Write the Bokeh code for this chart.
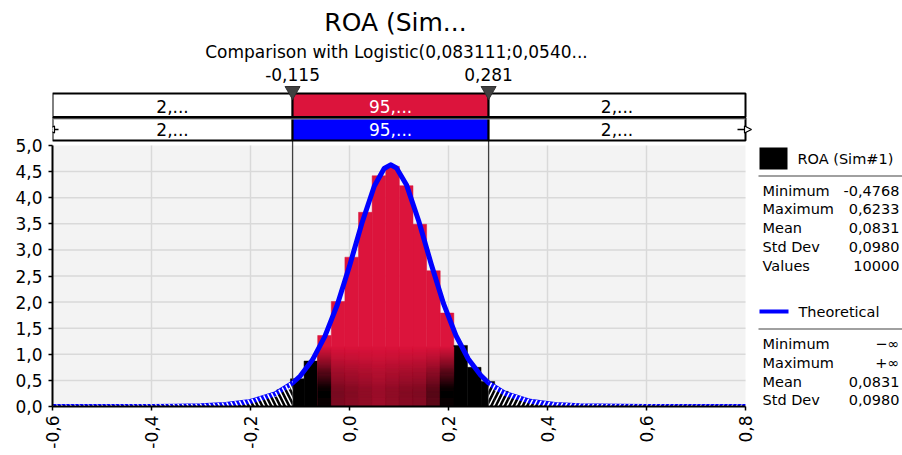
import numpy as np
from bokeh.plotting import figure
from bokeh.models import Range1d, FixedTicker, CustomJSTickFormatter
from bokeh.embed import file_html
from bokeh.resources import INLINE
from bokeh.core.properties import value

# ---------------- data ----------------
title_text = "ROA (Sim..."
subtitle_text = "Comparison with Logistic(0,083111;0,0540..."
sim_name = "ROA (Sim#1)"
theo_name = "Theoretical"

hist_min = -0.4768
hist_max = 0.6233
hist_density = [0.004, 0.0, 0.004, 0.004, 0.007, 0.011, 0.015, 0.026, 0.044, 0.07,
                0.11, 0.18, 0.32, 0.53, 0.87, 1.36, 2.01, 2.86, 3.72, 4.42,
                4.60, 4.23, 3.49, 2.60, 1.79, 1.17, 0.75, 0.48, 0.29, 0.18,
                0.11, 0.07, 0.045, 0.025, 0.015, 0.01, 0.007, 0.004, 0.0, 0.004]
red_bins = [15, 16, 17, 18, 19, 20, 21, 22, 23, 24]

theo_x = [-0.6, -0.5, -0.4, -0.35, -0.3, -0.25, -0.2, -0.15, -0.115, -0.1,
          -0.075, -0.05, -0.025, 0.0, 0.025, 0.05, 0.07, 0.083, 0.095, 0.115,
          0.14, 0.165, 0.19, 0.215, 0.24, 0.265, 0.281, 0.315, 0.365, 0.415,
          0.465, 0.5, 0.6, 0.7, 0.8]
theo_y = [0.0, 0.0, 0.002, 0.006, 0.015, 0.039, 0.097, 0.24, 0.45, 0.58,
          0.89, 1.34, 1.94, 2.69, 3.51, 4.22, 4.56, 4.63, 4.57, 4.25,
          3.55, 2.73, 1.97, 1.36, 0.91, 0.60, 0.45, 0.246, 0.099, 0.039,
          0.016, 0.008, 0.001, 0.0, 0.0]

delimiters = [-0.115, 0.281]
delimiter_labels = ["-0,115", "0,281"]
sim_band_labels = ["2,...", "95,...", "2,..."]
theo_band_labels = ["2,...", "95,...", "2,..."]

x_ticks = [-0.6, -0.4, -0.2, 0.0, 0.2, 0.4, 0.6, 0.8]
y_ticks = [0.0, 0.5, 1.0, 1.5, 2.0, 2.5, 3.0, 3.5, 4.0, 4.5, 5.0]

sim_stat_names = ["Minimum", "Maximum", "Mean", "Std Dev", "Values"]
sim_stat_values = ["-0,4768", "0,6233", "0,0831", "0,0980", "10000"]
theo_stat_names = ["Minimum", "Maximum", "Mean", "Std Dev"]
theo_stat_values = ["\u2212\u221e", "+\u221e", "0,0831", "0,0980"]

# ---------------- layout / style ----------------
FONT = "DejaVu Sans"
RED_RGB = (220, 20, 60)
RED = "#DC143C"
BLUE = "#0000FF"
W, H = 902, 455
PLOT_L, PLOT_R = 52, 745      # page pixels of first / last x tick
PLOT_T, PLOT_B = 145, 406     # page pixels of top / bottom y tick
B_LEFT, B_BOTTOM = PLOT_L, H - PLOT_B
FRAME_W = W - B_LEFT
FRAME_H = H - B_BOTTOM
px_per_x = (PLOT_R - PLOT_L) / (x_ticks[-1] - x_ticks[0])
px_per_y = (PLOT_B - PLOT_T) / (y_ticks[-1] - y_ticks[0])
x_start = x_ticks[0]
x_end = x_start + FRAME_W / px_per_x
y_end = FRAME_H / px_per_y


def dx(px):
    return x_start + (px - PLOT_L) / px_per_x


def dy(py):
    return (PLOT_B - py) / px_per_y


p = figure(width=W, height=H, x_range=Range1d(x_start, x_end), y_range=Range1d(0, y_end),
           output_backend="svg", toolbar_location=None,
           min_border_left=B_LEFT, min_border_right=0, min_border_top=0,
           min_border_bottom=B_BOTTOM)
p.outline_line_color = None
p.xgrid.visible = False
p.ygrid.visible = False
p.background_fill_color = "white"
p.border_fill_color = "white"

# axes
fmt = CustomJSTickFormatter(code="return tick.toFixed(1).replace('.', ',');")
for ax in (p.xaxis[0], p.yaxis[0]):
    ax.axis_line_color = "black"
    ax.axis_line_width = 2
    ax.major_tick_line_color = "black"
    ax.major_tick_line_width = 1.5
    ax.major_tick_out = 4
    ax.major_tick_in = 0
    ax.minor_tick_line_color = None
    ax.major_label_text_font = FONT
    ax.major_label_text_font_size = "17px"
    ax.major_label_text_color = "black"
    ax.formatter = fmt
p.xaxis.ticker = FixedTicker(ticks=x_ticks)
p.yaxis.ticker = FixedTicker(ticks=y_ticks)
p.xaxis.bounds = (x_ticks[0], x_ticks[-1])
p.yaxis.bounds = (y_ticks[0], y_ticks[-1])
p.xaxis.major_label_orientation = np.pi / 2
p.xaxis.major_label_standoff = 5
p.yaxis.major_label_standoff = 6

# plot background + grid
p.quad(left=x_ticks[0], right=x_ticks[-1], bottom=y_ticks[0], top=y_ticks[-1],
       fill_color="#F3F3F3", line_color=None)
p.segment(x0=x_ticks[1:-1], y0=y_ticks[0], x1=x_ticks[1:-1], y1=y_ticks[-1],
          line_color="#D9D9D9", line_width=1.5)
p.segment(x0=x_ticks[0], y0=y_ticks[1:-1], x1=x_ticks[-1], y1=y_ticks[1:-1],
          line_color="#D9D9D9", line_width=1.5)

# histogram
nb = len(hist_density)
edges = np.linspace(hist_min, hist_max, nb + 1)
bar_colors = [RED if k in red_bins else "black" for k in range(nb)]
p.quad(left=edges[:-1], right=edges[1:], bottom=0, top=hist_density,
       fill_color=bar_colors, line_color=bar_colors, line_width=0.5)

# dark shading at the foot of the red bars (opaque blended strips)
shade_weights = [1.0, 0.45, 0.4, 0.35, 0.3, 0.35, 0.4, 0.42, 0.6, 1.0]
sl, sr, sb, st, sc = [], [], [], [], []
step = 0.02
for k, w in zip(red_bins, shade_weights):
    for j in range(60):
        y0 = j * step
        y1 = y0 + step
        t = min(max((1.15 - (y0 + y1) / 2) / 0.8, 0.0), 1.0)
        a = w * t
        if a > 0.005:
            r, g, b = (int(round(c * (1 - a))) for c in RED_RGB)
            sl.append(edges[k]); sr.append(edges[k + 1])
            sb.append(y0); st.append(y1); sc.append("#%02x%02x%02x" % (r, g, b))
p.quad(left=sl, right=sr, bottom=sb, top=st, fill_color=sc, line_color=sc,
       line_width=0.6)

# delimiter lines through plot and band box
p.segment(x0=delimiters, y0=0, x1=delimiters, y1=dy(93), line_color="#404040",
          line_width=1.3)

# theoretical curve
p.line(theo_x, theo_y, line_color=BLUE, line_width=5, line_join="round")

# hatched tails
lx = [x for x in theo_x if x <= delimiters[0]]
ly = [y + 0.04 for x, y in zip(theo_x, theo_y) if x <= delimiters[0]]
rx = [x for x in theo_x if x >= delimiters[1]]
ry = [y + 0.04 for x, y in zip(theo_x, theo_y) if x >= delimiters[1]]
p.varea(x=lx, y1=-0.05, y2=ly, fill_color=None, hatch_pattern="left_diagonal_line",
        hatch_color="white", hatch_weight=1.5, hatch_scale=9)
p.varea(x=rx, y1=-0.05, y2=ry, fill_color=None, hatch_pattern="right_diagonal_line",
        hatch_color="white", hatch_weight=1.5, hatch_scale=9)

# band box (two rows)
cell_l = [x_ticks[0], delimiters[0], delimiters[1]]
cell_r = [delimiters[0], delimiters[1], x_ticks[-1]]
p.quad(left=cell_l, right=cell_r, top=dy(93), bottom=dy(116.5),
       fill_color=["white", RED, "white"], line_color="black", line_width=2)
p.quad(left=cell_l, right=cell_r, top=dy(117.5), bottom=dy(140),
       fill_color=["white", BLUE, "white"], line_color="black", line_width=2)
p.segment(x0=x_ticks[0], y0=dy(118.5), x1=x_ticks[-1], y1=dy(118.5),
          line_color="#9A9A9A", line_width=1)
cx = [(a + b) / 2 for a, b in zip(cell_l, cell_r)]
p.text(x=cx, y=dy(105.5), text=sim_band_labels, text_color=["black", "white", "black"],
       text_font=value(FONT), text_font_size="17px", text_align="center",
       text_baseline="middle")
p.text(x=cx, y=dy(129), text=theo_band_labels, text_color=["black", "white", "black"],
       text_font=value(FONT), text_font_size="17px", text_align="center",
       text_baseline="middle")

# end arrows on second row
p.segment(x0=[dx(50), dx(737)], y0=dy(129), x1=[dx(58), dx(746)], y1=dy(129),
          line_color="black", line_width=1.5)
p.patches(xs=[[dx(47), dx(54), dx(54)], [dx(751), dx(744), dx(744)]],
          ys=[[dy(129), dy(125.5), dy(132.5)], [dy(129), dy(125.5), dy(132.5)]],
          fill_color="white", line_color="black", line_width=1.2)

# delimiter markers and labels
hw = 7.5 / px_per_x
p.patches(xs=[[d - hw, d + hw, d] for d in delimiters],
          ys=[[dy(86), dy(86), dy(99)] for d in delimiters],
          fill_color="#404040", line_color="#303030", line_width=1)
p.text(x=delimiters, y=dy(74), text=delimiter_labels, text_color="black",
       text_font=value(FONT), text_font_size="17px", text_align="center",
       text_baseline="middle")

# titles
p.text(x=[dx(395)], y=[dy(22)], text=[title_text], text_color="black",
       text_font=value(FONT), text_font_size="25px", text_align="center",
       text_baseline="middle")
p.text(x=[dx(396)], y=[dy(51)], text=[subtitle_text], text_color="black",
       text_font=value(FONT), text_font_size="17px", text_align="center",
       text_baseline="middle")

# legend / statistics panel
p.quad(left=dx(759), right=dx(787), top=dy(147), bottom=dy(169), fill_color="black",
       line_color=None)
p.text(x=[dx(797)], y=[dy(158)], text=[sim_name], text_color="black",
       text_font=value(FONT), text_font_size="14.5px", text_align="left",
       text_baseline="middle")
p.segment(x0=dx(758), y0=[dy(175.5), dy(328.5)], x1=dx(902), y1=[dy(175.5), dy(328.5)],
          line_color="#A0A0A0", line_width=2)
sim_rows = [dy(190 + 18.8 * i) for i in range(len(sim_stat_names))]
p.text(x=dx(762), y=sim_rows, text=sim_stat_names, text_color="black",
       text_font=value(FONT), text_font_size="14.5px", text_align="left",
       text_baseline="middle")
p.text(x=dx(899), y=sim_rows, text=sim_stat_values, text_color="black",
       text_font=value(FONT), text_font_size="14.5px", text_align="right",
       text_baseline="middle")
p.segment(x0=dx(759), y0=dy(311), x1=dx(788), y1=dy(311), line_color=BLUE,
          line_width=4)
p.text(x=[dx(798)], y=[dy(311)], text=[theo_name], text_color="black",
       text_font=value(FONT), text_font_size="14.5px", text_align="left",
       text_baseline="middle")
theo_rows = [dy(343.5 + 18.8 * i) for i in range(len(theo_stat_names))]
p.text(x=dx(762), y=theo_rows, text=theo_stat_names, text_color="black",
       text_font=value(FONT), text_font_size="14.5px", text_align="left",
       text_baseline="middle")
p.text(x=dx(899), y=theo_rows, text=theo_stat_values, text_color="black",
       text_font=value(FONT), text_font_size="14.5px", text_align="right",
       text_baseline="middle")

open("out.html", "w").write(file_html(p, INLINE))
